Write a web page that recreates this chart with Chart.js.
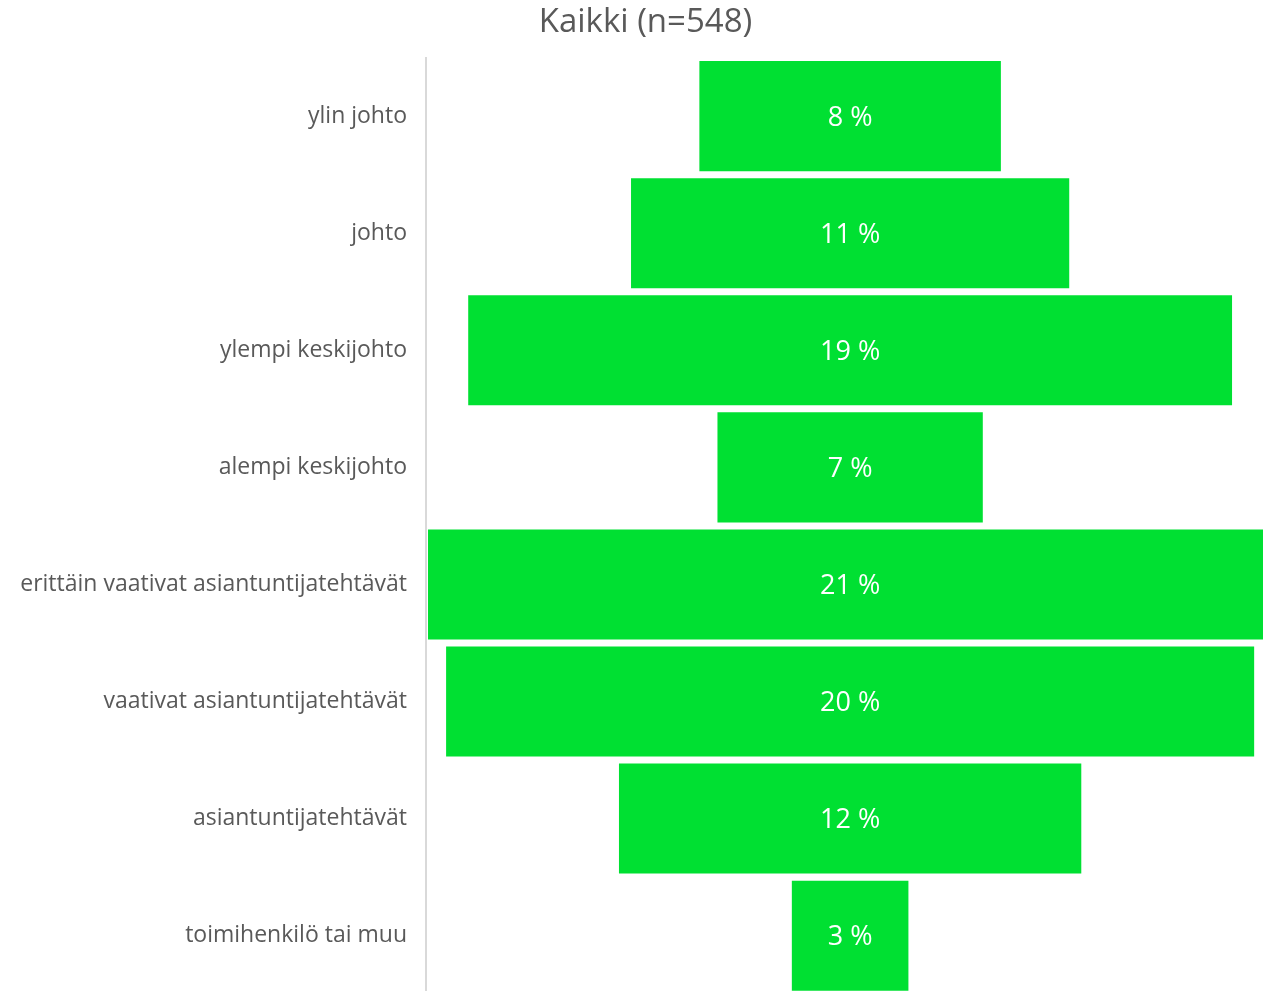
<!DOCTYPE html>
<html>
<head>
<meta charset="utf-8">
<script src="https://cdn.jsdelivr.net/npm/chart.js@4.4.0/dist/chart.umd.min.js"></script>
<style>
  html, body { margin: 0; padding: 0; background: #fff; overflow: hidden; }
  canvas { display: block; }
</style>
</head>
<body>
<canvas id="funnel" width="1263" height="1027"></canvas>
<script>
// categories and shares (%)
const categories = [
    'ylin johto',
    'johto',
    'ylempi keskijohto',
    'alempi keskijohto',
    'erittäin vaativat asiantuntijatehtävät',
    'vaativat asiantuntijatehtävät',
    'asiantuntijatehtävät',
    'toimihenkilö tai muu'
];
const shares = [7.5, 10.9, 19.0, 6.6, 21.0, 20.1, 11.5, 2.9];
const titleText = 'Kaikki (n=548)';

const textGrey = '#595959';
const barGreen = '#00e032';

// funnel: each bar is centred on zero
const floating = shares.map(v => [-v / 2, v / 2]);

const barLabels = {
    id: 'barLabels',
    afterDatasetsDraw(chart) {
        const ctx = chart.ctx;
        const meta = chart.getDatasetMeta(0);
        const cx = chart.scales.x.getPixelForValue(0);
        ctx.save();
        ctx.font = '27px "Open Sans"';
        ctx.fillStyle = '#ffffff';
        ctx.textAlign = 'center';
        ctx.textBaseline = 'middle';
        meta.data.forEach((bar, i) => {
            ctx.fillText(Math.round(shares[i]) + ' %', cx, bar.y + 2);
        });
        ctx.restore();
    }
};

new Chart(document.getElementById('funnel'), {
    type: 'bar',
    data: {
        labels: categories,
        datasets: [{
            data: floating,
            backgroundColor: barGreen,
            borderWidth: 0,
            barPercentage: 0.94,
            categoryPercentage: 1
        }]
    },
    options: {
        indexAxis: 'y',
        responsive: false,
        animation: false,
        // the plot runs past the right edge, so the title sits right of centre
        layout: { padding: { left: 0, right: -28, top: 0, bottom: 0 } },
        plugins: {
            legend: { display: false },
            tooltip: { enabled: false },
            title: {
                display: true,
                text: titleText,
                color: textGrey,
                font: { family: '"Open Sans"', size: 33, weight: 'normal' },
                padding: { top: 3, bottom: 15 }
            }
        },
        scales: {
            x: {
                display: false,
                min: -10.55,
                max: 10.27
            },
            y: {
                afterFit(scale) { scale.width = 426; },
                grid: { display: false, drawTicks: false },
                border: { display: true, color: '#d9d9d9', width: 2 },
                ticks: {
                    color: textGrey,
                    padding: 19,
                    font: { family: '"Open Sans"', size: 23 }
                }
            }
        }
    },
    plugins: [barLabels]
});
</script>
</body>
</html>
